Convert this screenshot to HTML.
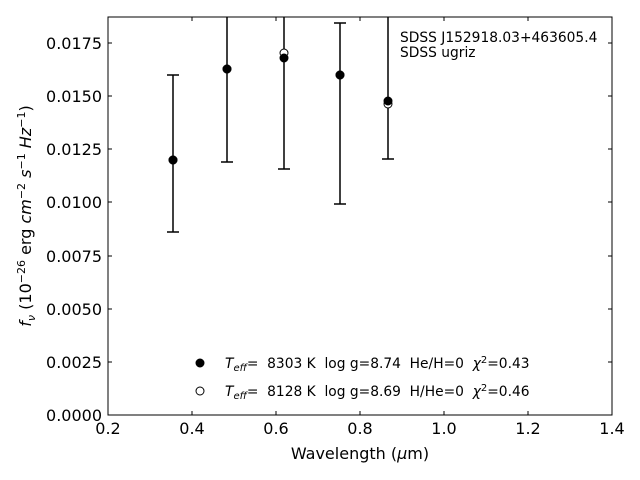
<!DOCTYPE html>
<html><head><style>body{margin:0;background:#fff}svg{display:block}text{font-family:"DejaVu Sans","Liberation Sans",sans-serif;white-space:pre}</style></head><body>
<svg width="640" height="480" viewBox="0 0 640 480" xmlns="http://www.w3.org/2000/svg" xml:space="preserve">
<rect width="640" height="480" fill="#fff"/>
<defs><clipPath id="c"><rect x="108" y="17" width="504" height="398"/></clipPath></defs>
<g stroke="#000" stroke-width="1">
<path d="M108 415v-4M192 415v-4M276 415v-4M360 415v-4M444 415v-4M528 415v-4M612 415v-4M108 17v4M192 17v4M276 17v4M360 17v4M444 17v4M528 17v4M612 17v4"/>
<path d="M108 415h4M108 362h4M108 309h4M108 256h4M108 202h4M108 149h4M108 96h4M108 43h4M612 415h-4M612 362h-4M612 309h-4M612 256h-4M612 202h-4M612 149h-4M612 96h-4M612 43h-4"/>
</g>
<g clip-path="url(#c)" stroke="#000" stroke-width="1.5">
<path d="M173 75V232M167 75h12M167 232h12"/>
<path d="M227 10V162M221 162h12"/>
<path d="M284 10V169M278 169h12"/>
<path d="M340 23V204M334 23h12M334 204h12"/>
<path d="M388 10V159M382 159h12"/>
</g>
<g stroke="#000" stroke-width="1">
<circle cx="173" cy="160" r="4" fill="#fff"/><circle cx="227" cy="69" r="4" fill="#fff"/><circle cx="284" cy="53" r="4" fill="#fff"/><circle cx="340" cy="75" r="4" fill="#fff"/><circle cx="388" cy="104" r="4" fill="#fff"/>
<circle cx="173" cy="160" r="4"/><circle cx="227" cy="69" r="4"/><circle cx="284" cy="58" r="4"/><circle cx="340" cy="75" r="4"/><circle cx="388" cy="101" r="4"/>
<circle cx="200" cy="363" r="4"/><circle cx="200" cy="391" r="4" fill="#fff"/>
</g>
<rect x="108" y="17" width="504" height="398" fill="none" stroke="#000" stroke-width="1"/>
<g font-size="16" text-anchor="middle">
<text x="108" y="434">0.2</text><text x="192" y="434">0.4</text><text x="276" y="434">0.6</text><text x="360" y="434">0.8</text><text x="444" y="434">1.0</text><text x="528" y="434">1.2</text><text x="612" y="434">1.4</text>
</g>
<g font-size="16" text-anchor="end">
<text x="102" y="421">0.0000</text><text x="102" y="368">0.0025</text><text x="102" y="315">0.0050</text><text x="102" y="262">0.0075</text><text x="102" y="208">0.0100</text><text x="102" y="155">0.0125</text><text x="102" y="102">0.0150</text><text x="102" y="49">0.0175</text>
</g>
<text x="360" y="459" font-size="16" text-anchor="middle">Wavelength (<tspan font-style="italic">μ</tspan>m)</text>
<text transform="translate(31,216) rotate(-90)" font-size="16" text-anchor="middle"><tspan font-style="italic">f</tspan><tspan font-style="italic" font-size="11" dy="4">ν</tspan><tspan dy="-4"> (10</tspan><tspan font-size="11" dy="-6">−26</tspan><tspan dy="6"> erg </tspan><tspan font-style="italic">cm</tspan><tspan font-size="11" dy="-6">−2</tspan><tspan dy="6"> </tspan><tspan font-style="italic">s</tspan><tspan font-size="11" dy="-6">−1</tspan><tspan dy="6"> </tspan><tspan font-style="italic">Hz</tspan><tspan font-size="11" dy="-6">−1</tspan><tspan dy="6">)</tspan></text>
<text x="400" y="42" font-size="13.8">SDSS J152918.03+463605.4</text>
<text x="400" y="57" font-size="13.8">SDSS ugriz</text>
<g font-size="13.8">
<text x="225" y="368"><tspan font-style="italic">T</tspan><tspan font-style="italic" font-size="10" dy="3">eff</tspan><tspan dy="-3">=  8303 K  log g=8.74  He/H=0  </tspan><tspan font-style="italic">χ</tspan><tspan font-size="10" dy="-5">2</tspan><tspan dy="5">=0.43</tspan></text>
<text x="225" y="396"><tspan font-style="italic">T</tspan><tspan font-style="italic" font-size="10" dy="3">eff</tspan><tspan dy="-3">=  8128 K  log g=8.69  H/He=0  </tspan><tspan font-style="italic">χ</tspan><tspan font-size="10" dy="-5">2</tspan><tspan dy="5">=0.46</tspan></text>
</g>
</svg>
</body></html>
